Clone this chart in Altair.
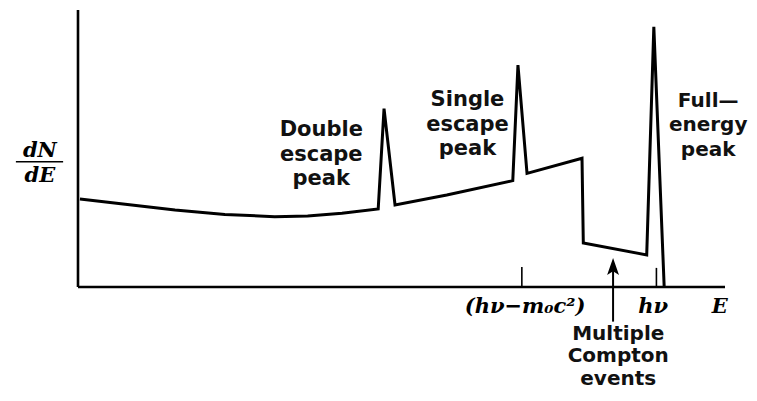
import altair as alt
import pandas as pd

# Spectrum curve (energy in arbitrary units 0-100, dN/dE in arbitrary units 0-100)
energy = [0.3, 7.3, 15.0, 22.7, 30.4, 35.5, 40.8, 46.4, 47.3, 49.0, 57.0, 67.2, 68.0,
          69.4, 77.9, 78.1, 87.9, 89.0, 90.6]
counts = [31.8, 29.9, 27.8, 26.2, 25.4, 25.6, 26.6, 28.2, 64.4, 29.6, 33.2, 38.4, 80.1,
          41.0, 46.5, 15.9, 11.6, 93.9, 0.0]

# Tick marks on the energy axis
tick_energy = [68.6, 89.4]
tick_height = [7.2, 6.9]

# Axis labels below the axis
axis_labels = ["(hν−m₀c²)", "hν", "E"]

# Peak / region annotations
ann_text = ["Double\nescape\npeak", "Single\nescape\npeak"]
full_text = ["Full—\nenergy\npeak"]
compton_text = ["Multiple\nCompton\nevents"]

curve = pd.DataFrame({"E": energy, "N": counts})

xs = alt.Scale(domain=[0, 100], nice=False, zero=False)
ys = alt.Scale(domain=[0, 100], nice=False, zero=False)


def X(f):
    return alt.X(f, scale=xs, axis=None)


def Y(f):
    return alt.Y(f, scale=ys, axis=None)


line = alt.Chart(curve).mark_line(color="black", strokeWidth=3, strokeJoin="miter").encode(
    x=X("E:Q"), y=Y("N:Q"), order="E:Q",
)

axes_df = pd.DataFrame({"x": [0, 0], "y": [0, 0], "x2": [0, 100], "y2": [100, 0]})
axes_lines = alt.Chart(axes_df).mark_rule(color="black", strokeWidth=2.6).encode(
    x=X("x:Q"), x2="x2:Q", y=Y("y:Q"), y2="y2:Q",
)

ticks_df = pd.DataFrame({"x": tick_energy, "h": tick_height, "y0": [0, 0]})
ticks = alt.Chart(ticks_df).mark_rule(color="black", strokeWidth=1.6).encode(
    x=X("x:Q"), y=Y("y0:Q"), y2="h:Q",
)

lab_df = pd.DataFrame({"t": axis_labels, "x": [69.1, 88.9, 99.2], "y": [-9.4, -9.4, -9.4]})
labels = alt.Chart(lab_df).mark_text(font="DejaVu Serif", fontStyle="italic",
                                     fontWeight="bold", fontSize=21, baseline="alphabetic",
                                     align="center", color="black").encode(
    x=X("x:Q"), y=Y("y:Q"), text="t:N")

ann_df = pd.DataFrame({"t": ann_text, "x": [37.6, 60.2], "y": [54.5, 65.2]})
ann = alt.Chart(ann_df).mark_text(font="DejaVu Sans", fontWeight="bold", fontSize=21,
                                  lineBreak="\n", lineHeight=24.5, baseline="alphabetic",
                                  align="center", color="#111").encode(
    x=X("x:Q"), y=Y("y:Q"), text="t:N")

full_df = pd.DataFrame({"t": full_text, "x": [97.4], "y": [65.1]})
full_ann = alt.Chart(full_df).mark_text(font="DejaVu Sans", fontWeight="bold", fontSize=20,
                                        lineBreak="\n", lineHeight=24.5, baseline="alphabetic",
                                        align="center", color="#111").encode(
    x=X("x:Q"), y=Y("y:Q"), text="t:N")

cmp_df = pd.DataFrame({"t": compton_text, "x": [83.5], "y": [-19.1]})
cmp_ann = alt.Chart(cmp_df).mark_text(font="DejaVu Sans", fontWeight="bold", fontSize=20,
                                      lineBreak="\n", lineHeight=22.5, baseline="alphabetic",
                                      align="center", color="#111").encode(
    x=X("x:Q"), y=Y("y:Q"), text="t:N")

ylab_df = pd.DataFrame({"t": ["dN", "dE"], "x": [-5.9, -5.9], "y": [46.9, 38.0]})
ylab = alt.Chart(ylab_df).mark_text(font="DejaVu Serif", fontStyle="italic",
                                    fontWeight="bold", fontSize=21, baseline="alphabetic",
                                    align="center", color="black").encode(
    x=X("x:Q"), y=Y("y:Q"), text="t:N")

frac_df = pd.DataFrame({"x": [-9.6], "x2": [-2.3], "y": [45.2]})
frac = alt.Chart(frac_df).mark_rule(color="black", strokeWidth=1.6).encode(
    x=X("x:Q"), x2="x2:Q", y=Y("y:Q"))

arrow_df = pd.DataFrame({"x": [82.7], "y": [-12.5], "y2": [6.1], "yh": [7.4]})
shaft = alt.Chart(arrow_df).mark_rule(color="black", strokeWidth=2).encode(
    x=X("x:Q"), y=Y("y:Q"), y2="y2:Q")
head = alt.Chart(arrow_df).mark_point(shape="M0,-1L0.7,1L0,0.55L-0.7,1Z", filled=True,
                                      size=289, color="black", opacity=1).encode(
    x=X("x:Q"), y=Y("yh:Q"))

chart = alt.layer(axes_lines, ticks, line, labels, ann, full_ann, cmp_ann, ylab, frac,
                  shaft, head).properties(
    width=647, height=277,
    background="white",
    autosize=alt.AutoSizeParams(type="none"),
    padding={"left": 70, "top": 2, "right": 24, "bottom": 105},
).configure_view(strokeWidth=0, stroke=None)

chart.save("out.html", embed_options={"renderer": "svg", "actions": False})
